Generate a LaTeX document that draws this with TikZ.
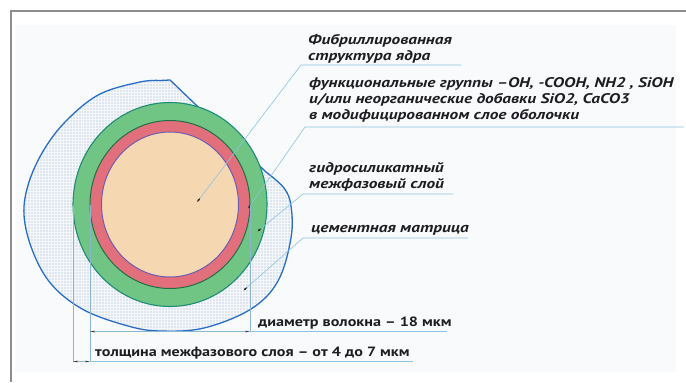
\documentclass[tikz,border=0pt]{standalone}
\usepackage{fontspec}
\setmainfont{PT Sans}
\newfontfamily\lblfont[FakeStretch=1.24]{PT Sans}
\newfontfamily\dimfont[FakeStretch=1.2]{PT Sans}
\usetikzlibrary{arrows.meta,patterns,positioning}
\definecolor{framegray}{RGB}{142,142,142}
\definecolor{paperbg}{RGB}{249,250,252}
\definecolor{mtxfill}{RGB}{221,229,239}
\definecolor{mtxblue}{RGB}{40,110,200}
\definecolor{shellgreen}{RGB}{112,196,132}
\definecolor{shelledge}{RGB}{30,140,120}
\definecolor{hydred}{RGB}{226,112,124}
\definecolor{hydedge}{RGB}{35,110,70}
\definecolor{corebeige}{RGB}{245,216,178}
\definecolor{coreedge}{RGB}{110,92,176}
\definecolor{leadblue}{RGB}{140,195,225}
\definecolor{txtdark}{RGB}{30,30,34}

\tikzset{
  lbl/.style={font=\lblfont\bfseries\itshape\fontsize{14}{16}\selectfont,
              text=txtdark, align=left, inner sep=0pt, anchor=base west},
  dimlbl/.style={lbl, font=\dimfont\bfseries\fontsize{13.5}{16}\selectfont},
  leader/.style={draw=leadblue, line width=0.6bp},
  pin/.style={leader, {Ellipse[length=3.6bp,width=1.8bp,color=black!85]}-},
  extline/.style={draw=leadblue!80!gray, line width=0.5bp},
  dimline/.style={extline,
    {Stealth[length=5bp,width=1.6bp,color=black!80]}-{Stealth[length=5bp,width=1.6bp,color=black!80]}}
}

\begin{document}
\begin{tikzpicture}[x=1bp,y=-1bp]
\useasboundingbox (0,0) rectangle (686,382);

% frame and paper
\fill[paperbg] (15,25) rectangle (676,372);
\draw[framegray, line width=2bp] (686,10.5) -- (10.5,10.5) -- (10.5,382);

% cement matrix
\draw[mtxblue, line width=1.3bp, preaction={fill=mtxfill},
      pattern=grid, pattern color=white!70!mtxfill]
  (170,80) -- plot[smooth, tension=0.6] coordinates {
    (266,172) (284,188) (291,206) (291,238) (278,281) (251,309)
    (204,328) (160,331) (128,326) (84,310) (52,285) (33,252)
    (24,215) (29,182) (45,148) (68,119) (100,94) (140,82) (160,80.5)}
  -- cycle;

% fibre: shell, hydrosilicate layer, core
\filldraw[fill=shellgreen, draw=shelledge, line width=1.1bp]
  (170,204.5) ellipse [x radius=97bp, y radius=102bp];
\filldraw[fill=hydred, draw=hydedge, line width=1bp]
  (170,204.5) ellipse [x radius=80bp, y radius=84bp];
\filldraw[fill=corebeige, draw=coreedge, line width=1bp]
  (170,204.5) ellipse [x radius=68.5bp, y radius=72.5bp];

% pin points
\coordinate (coreDot) at (197.5,201.5);
\coordinate (hydDot) at (248.5,208);
\coordinate (shellDot) at (258,231);
\coordinate (mtxDot) at (244,290);

% labels (anchored at the baseline of the last line)
\node[lbl] (fibLbl) at (308,60) {Фибриллированная\\структура ядра};
\node[lbl] (fgLbl) at (309,119)
  {функциональные группы –OH, -COOH, NH2 , SiOH\\
   и/или неорганические добавки SiO2, CaCO3\\
   в модифицированном слое оболочки};
\node[lbl] (hydLbl) at (309,188) {гидросиликатный\\межфазовый слой};
\node[lbl] (cemLbl) at (311,232) {цементная матрица};
\node[dimlbl] (diamLbl) at (258,326) {диаметр волокна – 18 мкм};
\node[dimlbl] (thickLbl) at (95,356) {толщина межфазового слоя – от 4 до 7 мкм};

% leaders
\coordinate (fibKnee) at (301,65);   \coordinate (fibEnd) at (461,65);
\coordinate (fgKnee) at (305,127);   \coordinate (fgEnd) at (684,127);
\coordinate (hydKnee) at (303,194);  \coordinate (hydEnd) at (453,194);
\coordinate (cemKnee) at (303,238);  \coordinate (cemEnd) at (468,238);
\draw[pin] (coreDot) -- (fibKnee) -- (fibEnd);
\draw[pin] (hydDot) -- (fgKnee) -- (fgEnd);
\draw[pin] (shellDot) -- (hydKnee) -- (hydEnd);
\draw[pin] (mtxDot) -- (cemKnee) -- (cemEnd);

% dimensions
\coordinate (shellL) at (73,205);
\coordinate (hydL) at (90,205);
\coordinate (hydR) at (250,205);
\coordinate (diamEnd) at (447,331.5);
\coordinate (thickEnd) at (413,361.5);
\draw[extline] (shellL) -- (shellL |- thickEnd);
\draw[extline] (hydL) -- (hydL |- thickEnd);
\draw[extline] (hydR) -- (hydR |- diamEnd);
\draw[dimline] (hydL |- diamEnd) -- (hydR |- diamEnd);
\draw[leader] (hydR |- diamEnd) -- (diamEnd);
\draw[dimline] (shellL |- thickEnd) -- (hydL |- thickEnd);
\draw[leader] (hydL |- thickEnd) -- (thickEnd);
\end{tikzpicture}
\end{document}
